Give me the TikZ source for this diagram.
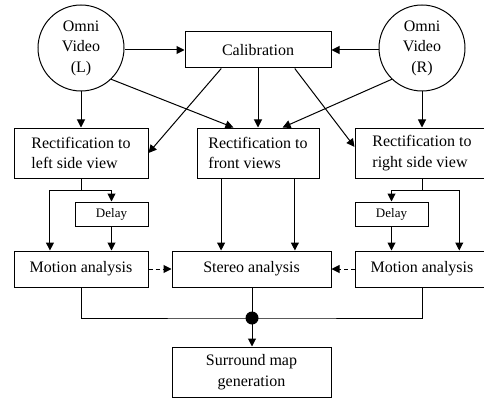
\documentclass[tikz,border=0pt]{standalone}
\usepackage{fontspec}
\setmainfont{Liberation Serif}
\usetikzlibrary{arrows.meta,calc}
\begin{document}
\begin{tikzpicture}[x=1pt,y=-1pt,
  every node/.style={font=\fontsize{16}{20.5}\selectfont},
  line/.style={draw=black,line width=1pt},
  arr/.style={line,-{Triangle[length=8pt,width=8pt]}},
  darr/.style={arr,dash pattern=on 4pt off 3pt},
  blk/.style={draw,line width=1pt,rectangle,inner sep=0pt,minimum height=#1},
  omni/.style={draw,line width=1pt,circle,minimum size=86pt,inner sep=0pt,align=center},
  dly/.style={draw,line width=1pt,rectangle,inner sep=0pt,minimum width=73pt,minimum height=24pt,font=\fontsize{13}{15}\selectfont}
]
\useasboundingbox (0,0) rectangle (484,401);
\clip (0,0) rectangle (484,401);
\node[omni] (omniL) at (81,48) {Omni\\Video\\(L)};
\node[omni] (omniR) at (422,48) {Omni\\Video\\(R)};
\node[blk=36pt,minimum width=146pt] (calib) at (258,50) {Calibration};
\node[blk=50pt,minimum width=134pt,align=left] (rleft) at (81,153) {Rectification to\\left side view};
\node[blk=50pt,minimum width=122pt,align=left] (rfront) at (258,153) {Rectification to\\front views};
\node[blk=50pt,minimum width=134pt,align=left] (rright) at (422,153) {Rectification to\\right side view};
\node[dly] (delayL) at (111.5,214) {Delay};
\node[dly] (delayR) at (391.5,214) {Delay};
\node[blk=36pt,minimum width=134pt] (mleft) at (81,269) {Motion analysis};
\node[blk=36pt,minimum width=159pt] (stereo) at (251.5,269) {Stereo analysis};
\node[blk=36pt,minimum width=134pt] (mright) at (422,269) {Motion analysis};
\node[blk=50pt,minimum width=159pt,align=center] (surround) at (251.5,372) {Surround map\\generation};
\coordinate (splitL) at (81,190);
\coordinate (splitR) at (422,190);
\coordinate (join) at (252,318);
\coordinate (fa) at ($(rfront.south west)!0.2!(rfront.south east)$);
\coordinate (fb) at ($(rfront.south west)!0.8!(rfront.south east)$);
\coordinate (la) at ($(mleft.north west)!0.27!(mleft.north east)$);
\coordinate (ra) at ($(mright.north west)!0.776!(mright.north east)$);
% top connectors
\draw[arr] (omniL.east |- calib) -- (calib.west);
\draw[arr] (omniR.west |- calib) -- (calib.east);
\draw[arr] (omniL) -- (rleft);
\draw[arr] (omniR) -- (rright);
\draw[arr] (omniL.-46) -- ($(rfront.north west)!0.3!(rfront.north east)$);
\draw[arr] (omniR.-134) -- ($(rfront.north west)!0.7!(rfront.north east)$);
\draw[arr] ($(calib.south west)!0.25!(calib.south east)$) -- (rleft.east);
\draw[arr] (calib) -- (rfront);
\draw[arr] ($(calib.south west)!0.75!(calib.south east)$) -- ($(rright.north west)!0.38!(rright.south west)$);
% left branch
\draw[line] (rleft.south) -- (splitL);
\draw[arr] (splitL) -| (delayL.north);
\draw[arr] (splitL) -| (la);
\draw[arr] (delayL) -- (delayL |- mleft.north);
% right branch
\draw[line] (rright.south) -- (splitR);
\draw[arr] (splitR) -| (delayR.north);
\draw[arr] (splitR) -| (ra);
\draw[arr] (delayR) -- (delayR |- mright.north);
% front to stereo
\draw[arr] (fa) -- (fa |- stereo.north);
\draw[arr] (fb) -- (fb |- stereo.north);
% dashed
\draw[darr] (mleft.east) -- (stereo.west);
\draw[darr] (mright.west) -- (stereo.east);
% bottom
\draw[line] (mleft.south) |- (join) -| (mright.south);
\draw[line] (stereo.south -| join) -- (join);
\draw[arr] (join) -- (surround.north -| join);
\fill (join) circle (6.5pt);
\end{tikzpicture}
\end{document}
